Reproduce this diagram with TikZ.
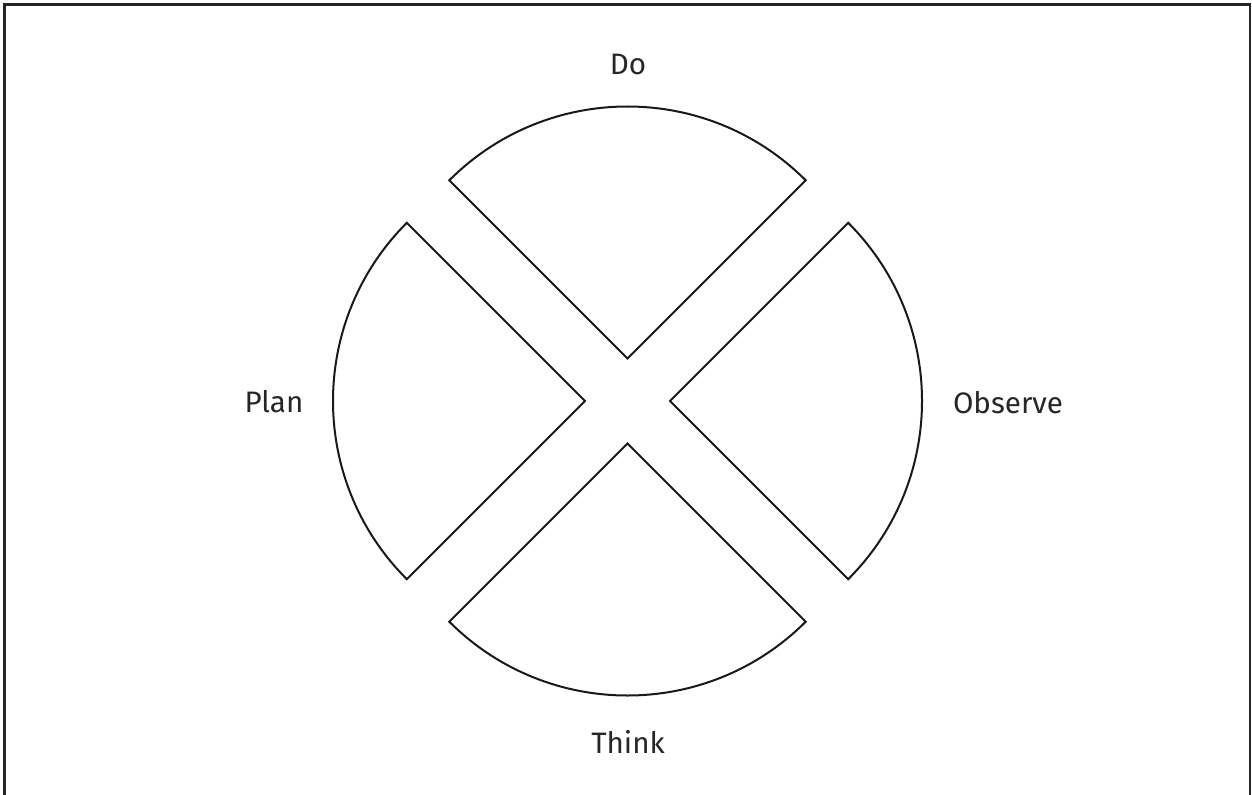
\documentclass[tikz,border=0pt]{standalone}
\usepackage{fontspec}
\setmainfont{Fira Sans}
\begin{document}
\begin{tikzpicture}[x=0.5pt,y=0.5pt,
  sector/.style={draw=black!90,line width=1pt,line join=miter},
  lbl/.style={font=\fontsize{14.8}{18}\selectfont,text=black!85,anchor=base,inner sep=0pt}]
\useasboundingbox (0,0) rectangle (1252,794);
\draw[line width=1.1pt,draw=black!85] (4.5,789.5) rectangle (1250,-4);
\coordinate (ado) at (627.5,435.5);
\coordinate (aplan) at (585,393);
\coordinate (aobs) at (670,393);
\coordinate (athink) at (627.5,350.5);
\draw[sector] (ado) -- ++(135:252) arc[start angle=135,end angle=45,radius=252] -- cycle;
\draw[sector] (aplan) -- ++(135:252) arc[start angle=135,end angle=225,radius=252] -- cycle;
\draw[sector] (aobs) -- ++(45:252) arc[start angle=45,end angle=-45,radius=252] -- cycle;
\draw[sector] (athink) -- ++(225:252) arc[start angle=225,end angle=315,radius=252] -- cycle;
\node[lbl] (do) at (628,719) {Do};
\node[lbl] (plan) at (274,382) {Plan};
\node[lbl] (obs) at (1008,381) {Observe};
\node[lbl] (think) at (628,41) {Think};
\end{tikzpicture}
\end{document}
